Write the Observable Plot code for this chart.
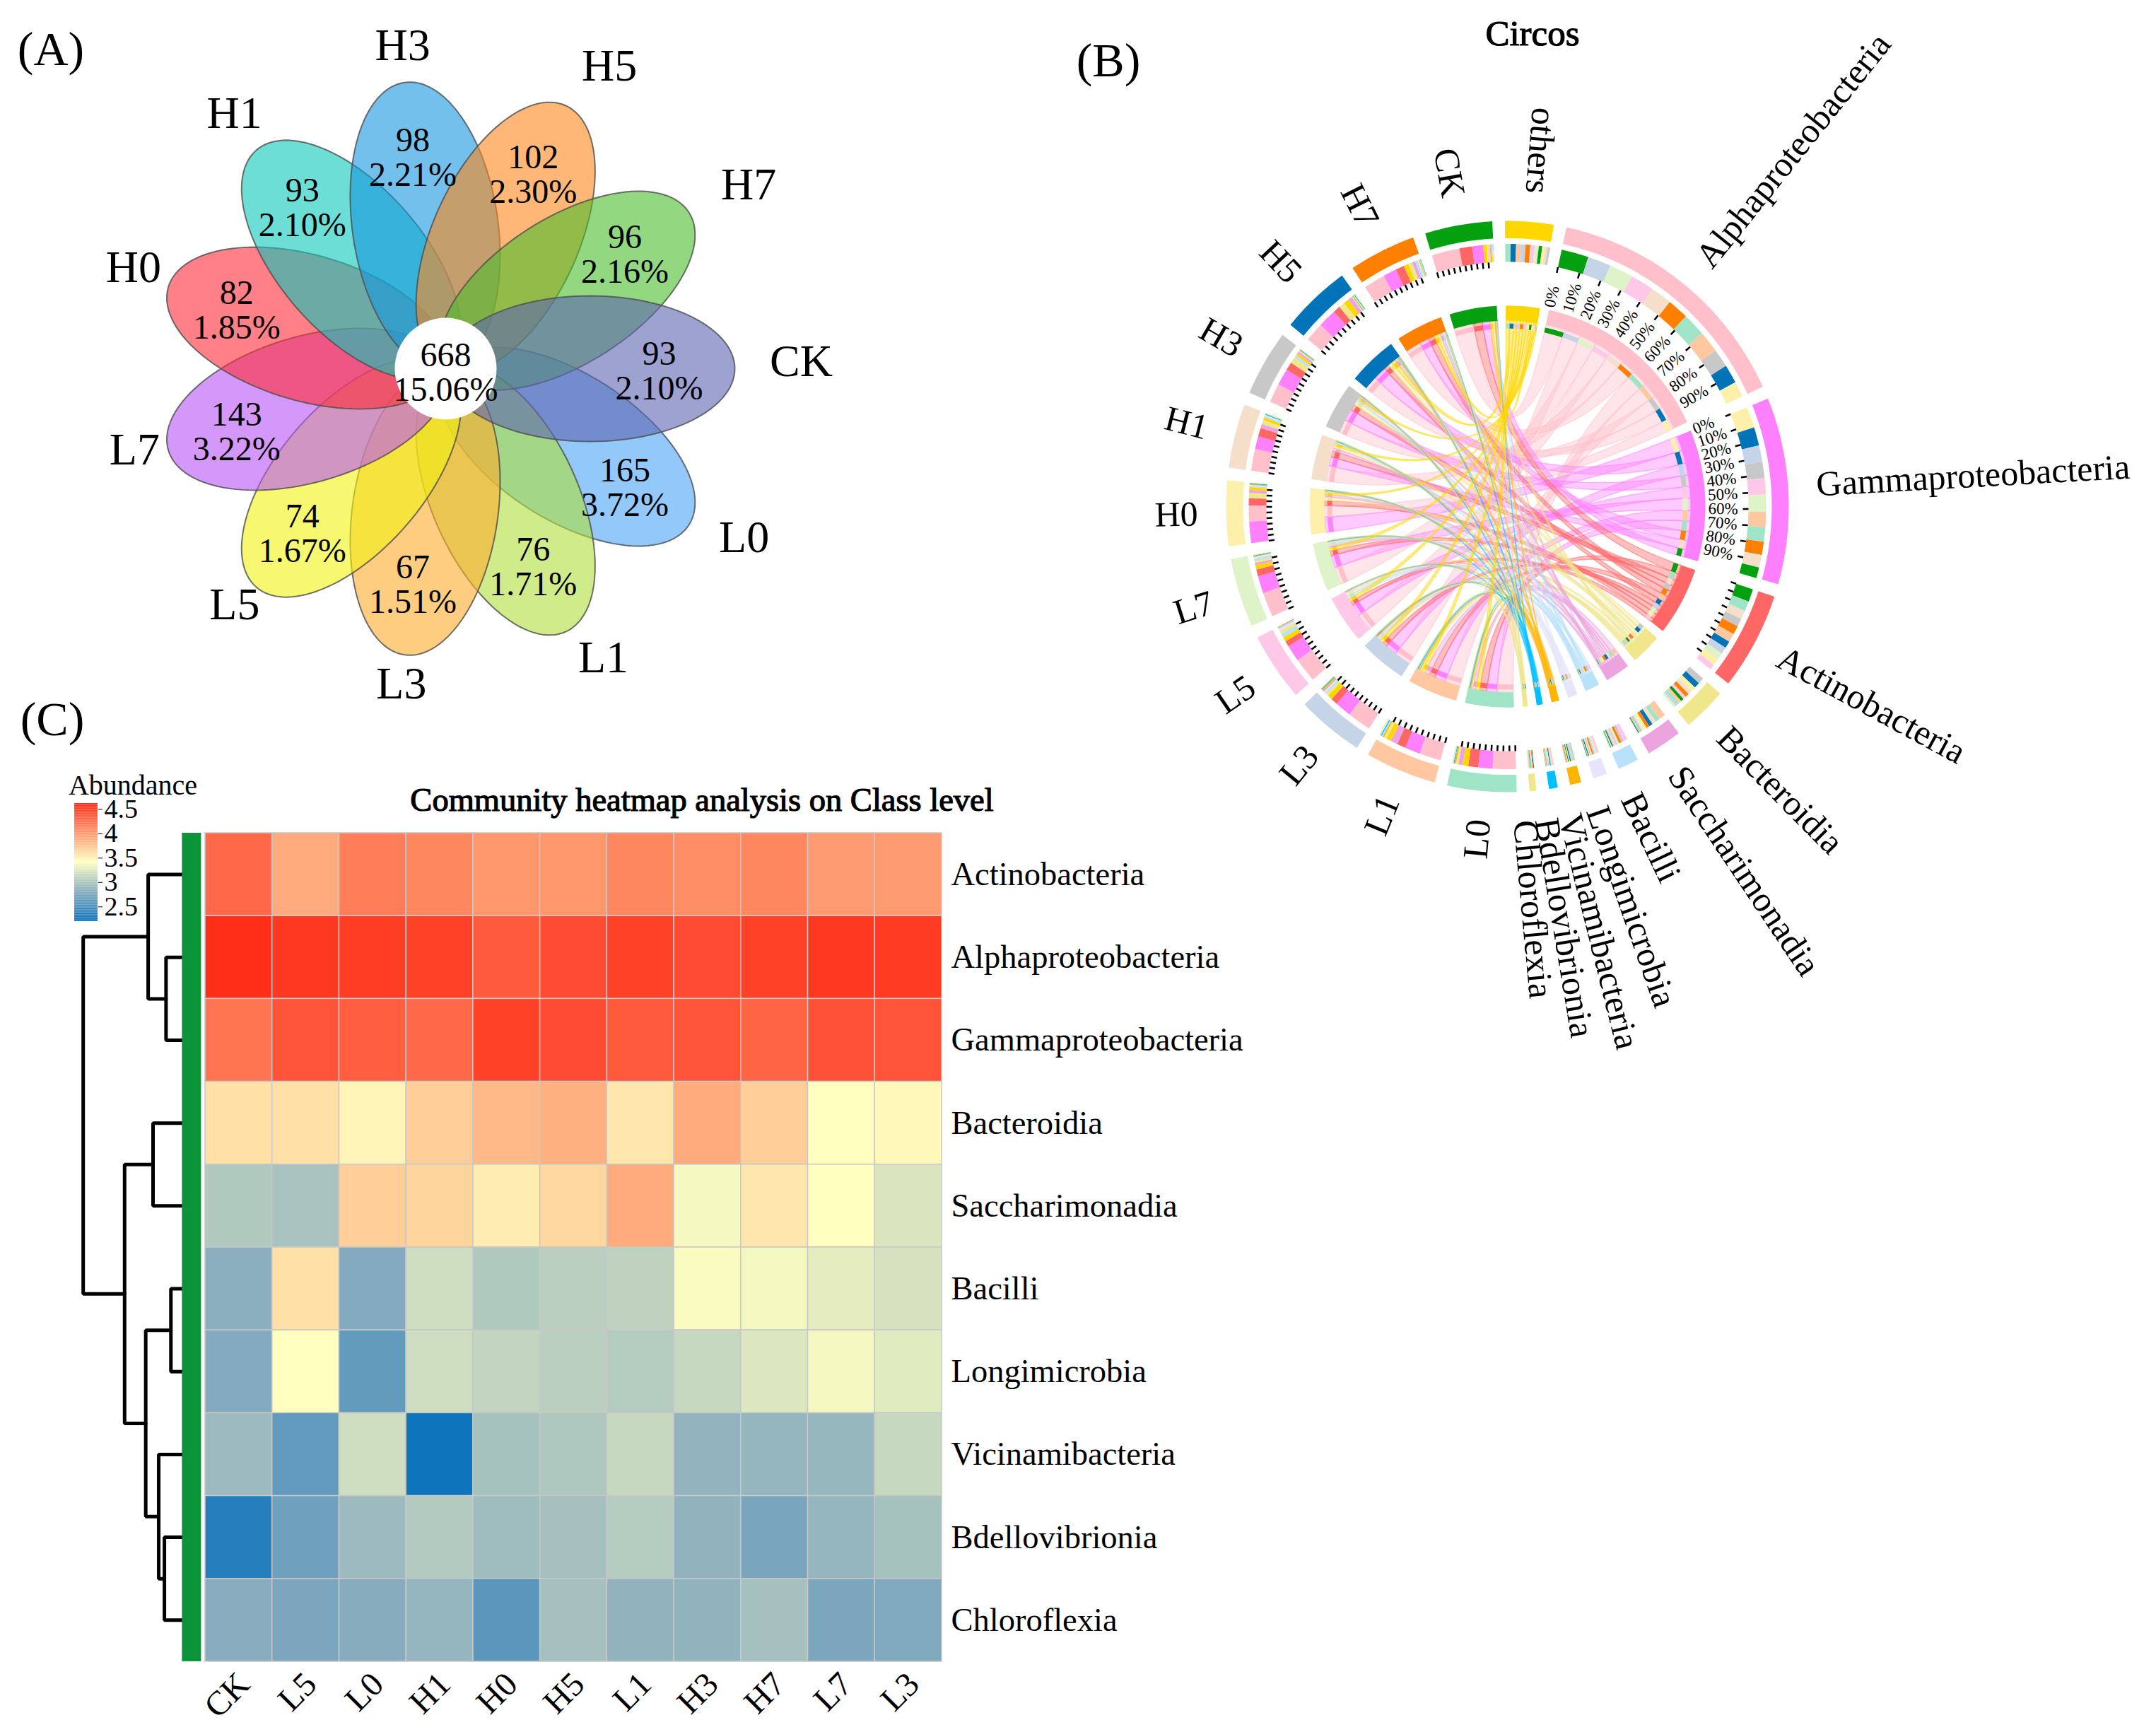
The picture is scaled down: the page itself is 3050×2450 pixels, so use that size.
<!DOCTYPE html>
<html><head><meta charset="utf-8">
<script src="https://cdn.jsdelivr.net/npm/d3@7"></script>
<script src="https://cdn.jsdelivr.net/npm/@observablehq/plot@0.6"></script>
<style>
html,body{margin:0;padding:0;background:#fff}
#page{position:relative;width:3050px;height:2450px;overflow:hidden;background:#fff;font-family:"Liberation Serif",serif;color:#000}
.t{position:absolute;transform:translate(-50%,-50%);white-space:nowrap;line-height:1}
</style></head><body><div id="page"></div>
<script>
// ---------- Panel A data ----------
const vennOrder   = ["CK","H7","H5","H3","H1","H0","L7","L5","L3","L1","L0"]; // counter-clockwise from east
const vennCounts  = [93,96,102,98,93,82,143,74,67,76,165];
const vennPercent = ["2.10%","2.16%","2.30%","2.21%","2.10%","1.85%","3.22%","1.67%","1.51%","1.71%","3.72%"];
const vennColors  = ["#5d64b1","#49be2b","#fd871b","#1496de","#0ac8bb","#ff2b35","#b753f7","#f2f211","#fdac2b","#b1df3c","#49a3f7"];
const vennDraw    = ["L0","L1","L3","L5","L7","H0","H1","H3","H5","H7","CK"];
const vennLabelR  = [503,501,487,461,469,464,455,448,450,466,485];
const vennLabelA  = [1.1,31.2,61.6,97.6,129.6,162.1,194.7,228.2,262,298.6,330.5];
const coreCount = 668, corePercent = "15.06%";

// ---------- Panel C data (log10 abundance) ----------
const samples = ["CK","L5","L0","H1","H0","H5","L1","H3","H7","L7","L3"];
const classes = ["Actinobacteria","Alphaproteobacteria","Gammaproteobacteria","Bacteroidia","Saccharimonadia","Bacilli","Longimicrobia","Vicinamibacteria","Bdellovibrionia","Chloroflexia"];
const actinobacteria      = [4.26,3.89,4.15,4.09,4.00,4.00,4.09,4.06,4.09,3.98,3.98];
const alphaproteobacteria = [4.60,4.54,4.52,4.49,4.35,4.43,4.49,4.43,4.49,4.54,4.53];
const gammaproteobacteria = [4.20,4.38,4.32,4.26,4.49,4.43,4.35,4.38,4.29,4.40,4.38];
const bacteroidia         = [3.58,3.58,3.47,3.69,3.81,3.86,3.55,3.89,3.69,3.41,3.45];
const saccharimonadia     = [3.01,2.97,3.69,3.65,3.52,3.63,3.89,3.36,3.55,3.41,3.22];
const bacilli             = [2.82,3.58,2.78,3.16,3.01,3.06,3.08,3.38,3.35,3.28,3.20];
const longimicrobia       = [2.78,3.41,2.62,3.16,3.10,3.06,3.03,3.12,3.23,3.35,3.26];
const vicinamibacteria    = [2.91,2.61,3.16,2.20,2.96,3.00,3.12,2.86,2.87,2.88,3.12];
const bdellovibrionia     = [2.32,2.68,2.91,3.02,2.92,2.95,3.03,2.85,2.73,2.87,2.96];
const chloroflexia        = [2.81,2.74,2.80,2.87,2.58,2.95,2.85,2.85,2.95,2.74,2.77];
const heatRows = [actinobacteria,alphaproteobacteria,gammaproteobacteria,bacteroidia,saccharimonadia,bacilli,longimicrobia,vicinamibacteria,bdellovibrionia,chloroflexia];
const othersAbundance = [5000,6500,8000,4000,4000,8000,7000,3500,7000,6000,7000];
const legendTicks = [2.5,3,3.5,4,4.5];
// hierarchical clustering: [childA, childB, height]
const merges = [
  ["Alphaproteobacteria","Gammaproteobacteria",20],
  ["Actinobacteria","m0",42],
  ["Bacteroidia","Saccharimonadia",36],
  ["Bacilli","Longimicrobia",14],
  ["Bdellovibrionia","Chloroflexia",22],
  ["Vicinamibacteria","m4",29],
  ["m3","m5",45],
  ["m2","m6",71],
  ["m1","m7",122]
];

// ---------- Panel B data ----------
const circosClasses = ["Alphaproteobacteria","Gammaproteobacteria","Actinobacteria","Bacteroidia","Saccharimonadia","Bacilli","Longimicrobia","Vicinamibacteria","Bdellovibrionia","Chloroflexia","others"];
const circosSamples = ["L0","L1","L3","L5","L7","H0","H1","H3","H5","H7","CK"];
const classShare   = [53.1,38,19.9,9,7.3,4.3,2.9,2.3,1.8,1.4,10]; // share of the circle, read from the ring
const labelNudge   = [.6,-.8,0,.5,.8,2,2.5,2.5,2.2,2,1];
const alphaOrder   = ["CK","L3","L7","L5","H1","H7","L0","L1","H3","H5","H0"];
const gammaOrder   = ["H0","H5","L3","H3","L5","L7","L1","L0","H7","H1","CK"];
const actinoOrder  = ["CK","L0","H1","H3","H7","L1","H5","L3","L7","H0","L5"];
const othersOrder  = ["L0","H5","L1","L3","H7","L5","L7","CK","H0","H1","H3"];
const classColors  = ["#ffc0cb","#ff80ff","#ff6666","#f0e68c","#eba4de","#b8e2fa","#e6e6fa","#ffb400","#00bfff","#f0e68c","#ffd700"];
const sampleColors = ["#a0e4c8","#ffc8a0","#c6d4e8","#ffc8e8","#def3c8","#fcf0aa","#f5dfca","#c8c8c8","#0073b9","#ff8000","#05a00f"];
const tickedClasses = ["Alphaproteobacteria","Gammaproteobacteria","Actinobacteria"];
const labelledClasses = ["Alphaproteobacteria","Gammaproteobacteria"];

const page = document.getElementById("page");
const FONT = "Liberation Serif";
const base = (left,top)=>({background:"transparent",maxWidth:"none",position:"absolute",left:left+"px",top:top+"px",fontFamily:FONT,overflow:"visible"});
function html(text,x,y,size,extra){ const d=document.createElement("div"); d.className="t"; d.textContent=text;
  d.style.left=x+"px"; d.style.top=y+"px"; d.style.fontSize=size+"px"; if(extra) Object.assign(d.style,extra); page.appendChild(d); }

// ---------- Panel A ----------
(function(){
  const W=1300,H=1040,cx=630,cy=521;
  const rad=i=>i*2*Math.PI/vennOrder.length;
  const a=205,b=103,off=204;
  const pts=[];
  vennDraw.forEach(name=>{
    const i=vennOrder.indexOf(name),t=rad(i);
    d3.range(0,121).forEach(k=>{
      const p=k/120*2*Math.PI, u=off+a*Math.cos(p), v=b*Math.sin(p);
      pts.push({set:name,fill:vennColors[i],x:u*Math.cos(t)+v*Math.sin(t),y:-u*Math.sin(t)+v*Math.cos(t)});
    });
  });
  const labels=vennOrder.map((n,i)=>{const la=vennLabelA[i]*Math.PI/180;return {n,
    text:vennCounts[i]+"\n"+vennPercent[i],
    x:305*Math.cos(rad(i))-3,y:-305*Math.sin(rad(i))+3,
    lx:vennLabelR[i]*Math.cos(la),ly:-vennLabelR[i]*Math.sin(la)};});
  page.appendChild(Plot.plot({width:W,height:H,margin:0,
    x:{domain:[-cx,W-cx],range:[0,W],axis:null},y:{domain:[-cy,H-cy],range:[0,H],axis:null},
    color:{type:"identity"},style:base(0,0),
    marks:[
      Plot.line(pts,{x:"x",y:"y",z:"set",fill:"fill",fillOpacity:.6,stroke:"#4d4d4d",strokeOpacity:.8,strokeWidth:2,curve:"linear"}),
      Plot.dot([{x:0,y:0}],{x:"x",y:"y",r:72,fill:"#fff",stroke:null}),
      Plot.text(labels,{x:"x",y:"y",text:"text",fontSize:48,lineHeight:1.02,fill:"#000"}),
      Plot.text([{x:0,y:0,t:coreCount+"\n"+corePercent}],{x:"x",y:"y",dy:5,text:"t",fontSize:48,lineHeight:1.02,fill:"#000"}),
      Plot.text(labels,{x:"lx",y:"ly",text:"n",fontSize:64,fill:"#000"})
    ]}));
})();

// ---------- Panel C ----------
(function(){
  const left=290,top=1178,cw=1042,ch=1172;
  const cells=[];
  classes.forEach((c,r)=>samples.forEach((s,k)=>cells.push({c,s,v:heatRows[r][k]})));
  const colorScale={type:"linear",domain:[2.2,2.8,3.41,4.62],range:["#0e74bc","#87acbe","#ffffc0","#ff2a16"],interpolate:"rgb"};
  page.appendChild(Plot.plot({width:cw+560,height:ch+100,marginLeft:0,marginTop:0,marginRight:560,marginBottom:100,
    x:{domain:samples,padding:0,round:false,axis:null},y:{domain:classes,padding:0,round:false,axis:null},color:colorScale,style:base(left,top),
    marks:[
      Plot.cell(cells,{x:"s",y:"c",fill:"v",stroke:"#c8c8c8",strokeWidth:1.5}),
      Plot.axisY({anchor:"right",tickSize:0,tickPadding:13,fontSize:46.5,label:null}),
      Plot.axisX({anchor:"bottom",tickRotate:-45,tickSize:0,tickPadding:14,dx:7,dy:10,fontSize:48,label:null})
    ]}));

  // dendrogram and annotation bar
  const pos={}; classes.forEach((c,i)=>pos[c]={h:0,y:i});
  const tree=[];
  merges.forEach(([a,b,h],i)=>{
    const A=pos[a],B=pos[b];
    [[A.h,A.y],[h,A.y],[h,B.y],[B.h,B.y]].forEach(([x,y])=>tree.push({id:i,x,y}));
    pos["m"+i]={h,y:(A.y+B.y)/2};
  });
  const unit=1.149;
  page.appendChild(Plot.plot({width:153.5*unit,height:ch,margin:0,
    x:{domain:[130,-23.5],range:[0,153.5*unit],axis:null},y:{domain:[-.5,9.5],range:[0,ch],axis:null},
    style:base(257-130*unit,top),
    marks:[
      Plot.line(tree,{x:"x",y:"y",z:"id",stroke:"#000",strokeWidth:5,curve:"linear",strokeLinejoin:"miter"}),
      Plot.rect([{}],{x1:()=>0,x2:()=>-23.5,y1:()=>-.5,y2:()=>9.5,fill:"#0a9339"})
    ]}));

  // legend
  const stops=d3.range(2.2,4.62,.02).map(v=>({v}));
  page.appendChild(Plot.plot({width:140,height:167+20,marginLeft:0,marginRight:107,marginTop:10,marginBottom:10,
    x:{domain:[0,1],axis:null},y:{domain:[2.2,4.62],axis:null},color:colorScale,style:base(105,1126),
    marks:[
      Plot.rect(stops,{x1:()=>0,x2:()=>1,y1:"v",y2:d=>d.v+.021,fill:"v"}),
      Plot.axisY({anchor:"right",ticks:legendTicks,tickFormat:d=>String(d),tickSize:6,tickPadding:3,fontSize:38,label:null})
    ]}));
})();

// ---------- Panel B ----------
(function(){
  const L=1620,W=1430,H=1480,cx=2132-L,cy=716,ys=1.015;
  const raw=(c,s)=>{ const k=samples.indexOf(s);
    return c==="others"?othersAbundance[k]:Math.pow(10,heatRows[classes.indexOf(c)][k]); };
  const rawTot=c=>d3.sum(circosSamples,s=>raw(c,s));
  const val=(c,s)=>classShare[circosClasses.indexOf(c)]*raw(c,s)/rawTot(c);
  const gap=2.6,start=12.1;
  const classTot=circosClasses.map(c=>d3.sum(circosSamples,s=>val(c,s)));
  const sampleTot=circosSamples.map(s=>d3.sum(circosClasses,c=>val(c,s)));
  const ks=(360-22*gap-d3.sum(classTot))/d3.sum(sampleTot);
  const P=(r,a)=>{const t=a*Math.PI/180;return {x:r*Math.sin(t),y:-r*Math.cos(t)};};
  const polys=[],rib=[],tickRows=[],tickTexts=[],outer=[];
  const fixedOrder={Alphaproteobacteria:alphaOrder,Gammaproteobacteria:gammaOrder,Actinobacteria:actinoOrder,others:othersOrder};
  let id=0;
  function sector(r0,r1,a0,a1,fill,target){ const n=Math.max(2,Math.ceil((a1-a0)/.7)),me=id++;
    d3.range(n+1).forEach(i=>{const p=P(r1,a0+(a1-a0)*i/n);target.push({id:me,fill,...p});});
    d3.range(n,-1,-1).forEach(i=>{const p=P(r0,a0+(a1-a0)*i/n);target.push({id:me,fill,...p});});
    target.push({id:me,fill,...P(r1,a0)});
  }
  let theta=start; const classSlot={},sampleSlot={}; const sectors=[];
  const addSector=(name,color,total,partners,valueOf,partnerColor,slots,isClass,k)=>{
    const a0=theta,a1=theta+total*k; sectors.push({name,color,a0,a1,isClass});
    sector(374,398,a0,a1,color,polys);
    sector(259,280,a0,a1,color,polys);
    const sorted=fixedOrder[name]||[...partners].sort((p,q)=>valueOf(q)-valueOf(p));
    let t=a0; sorted.forEach(p=>{ const w=valueOf(p)*k;
      slots[name+"|"+p]=[t,t+w];
      sector(341,366,t,t+w,partnerColor(p),polys);
      sector(248,255,t,t+w,partnerColor(p),polys);
      t+=w; });
    theta=a1+gap;
  };
  const addClass=(c,i)=>addSector(c,classColors[i],classTot[i],circosSamples,s=>val(c,s),s=>sampleColors[circosSamples.indexOf(s)],classSlot,true,1);
  circosClasses.forEach((c,i)=>{ if(c!=="others") addClass(c,i); });
  circosSamples.forEach((s,i)=>addSector(s,sampleColors[i],sampleTot[i],circosClasses,c=>val(c,s),c=>classColors[circosClasses.indexOf(c)],sampleSlot,false,ks));
  addClass("others",circosClasses.indexOf("others"));
  // ribbons
  const RR=259;
  circosClasses.forEach((c,ci)=>circosSamples.forEach(s=>{
    const [a0,a1]=classSlot[c+"|"+s],[b0,b1]=sampleSlot[s+"|"+c],me=id++,fill=classColors[ci];
    const arc=(u,v)=>{const n=3;d3.range(n+1).forEach(i=>rib.push({id:me,fill,...P(RR,u+(v-u)*i/n)}));};
    const quad=(u,v)=>{const p0=P(RR,u),p2=P(RR,v);d3.range(1,30).forEach(i=>{const t=i/30,w=(1-t)*(1-t),z=t*t;rib.push({id:me,fill,x:w*p0.x+z*p2.x,y:w*p0.y+z*p2.y});});};
    arc(a0,a1);quad(a1,b0);arc(b0,b1);quad(b1,a0);rib.push({id:me,fill,...P(RR,a0)});
  }));
  // ticks, tick labels, sector labels
  sectors.forEach(sc=>{
    if(!sc.isClass||tickedClasses.includes(sc.name)) d3.range(10).forEach(i=>{
      const a=sc.a0+(sc.a1-sc.a0)*i/10, p=P(333,a), q=P(341,a);
      tickRows.push({x1:p.x,y1:p.y,x2:q.x,y2:q.y});
      if(labelledClasses.includes(sc.name)){ const m=P(284,a); tickTexts.push({...m,t:(i*10)+"%",rot:a-90}); }
    });
    const mid=(sc.a0+sc.a1)/2;
    const ci=circosClasses.indexOf(sc.name);
    const lp=P(438,mid+(ci>=0?labelNudge[ci]:0));
    const right=mid<180;
    outer.push({...lp,t:sc.name,mid,right,rot:right?mid-90:mid+90});
  });
  page.appendChild(Plot.plot({width:W,height:H,margin:0,
    x:{domain:[-cx,W-cx],range:[0,W],axis:null},y:{domain:[-cy/ys,(H-cy)/ys],range:[0,H],axis:null},
    color:{type:"identity"},style:base(L,0),
    marks:[
      Plot.line(rib,{x:"x",y:"y",z:"id",fill:"fill",fillOpacity:.42,stroke:"fill",strokeOpacity:.5,strokeWidth:1.5,curve:"linear"}),
      Plot.line(polys,{x:"x",y:"y",z:"id",fill:"fill",stroke:null,curve:"linear"}),
      Plot.link(tickRows,{x1:"x1",y1:"y1",x2:"x2",y2:"y2",stroke:"#000",strokeWidth:2.5}),
      Plot.text(tickTexts,{x:"x",y:"y",text:"t",rotate:"rot",textAnchor:"start",fontSize:23,fill:"#000"}),
      Plot.text(outer.filter(d=>d.right),{x:"x",y:"y",text:"t",rotate:"rot",textAnchor:"start",fontSize:50,fill:"#000"}),
      Plot.text(outer.filter(d=>!d.right),{x:"x",y:"y",text:"t",rotate:"rot",textAnchor:"end",fontSize:50,fill:"#000"})
    ]}));
})();

// ---------- Panel letters and titles ----------
html("(A)",72,69,68);
html("(B)",1568,85,68);
html("(C)",74,1017,68);
const heavy={WebkitTextStroke:"1.2px #000"};
html("Circos",2168,47,51,heavy);
html("Community heatmap analysis on Class level",993,1132,46.5,heavy);
html("Abundance",188,1111,40);
</script></body></html>
